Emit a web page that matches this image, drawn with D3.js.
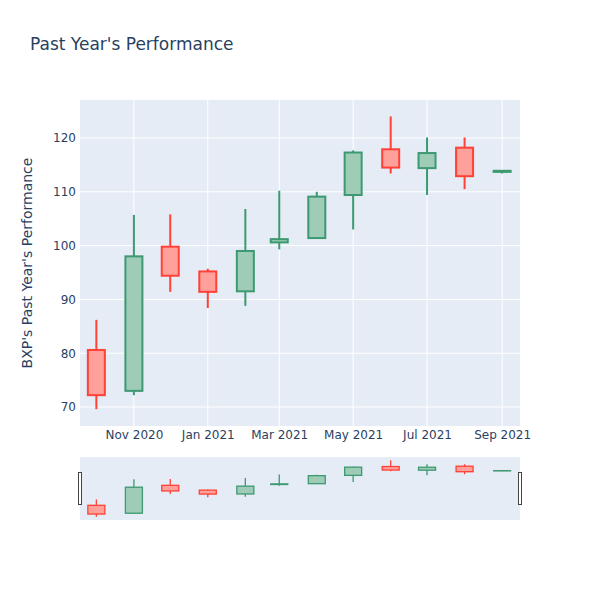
<!DOCTYPE html>
<html>
<head>
<meta charset="utf-8">
<script src="https://cdn.jsdelivr.net/npm/d3@7"></script>
<style>
  body { margin: 0; background: #fff; }
  text { font-family: "DejaVu Sans", verdana, arial, sans-serif; }
</style>
</head>
<body>
<div id="chart"></div>
<script>
// monthly candles
var dates = ["2020-10-01", "2020-11-01", "2020-12-01", "2021-01-01", "2021-02-01", "2021-03-01",
             "2021-04-01", "2021-05-01", "2021-06-01", "2021-07-01", "2021-08-01", "2021-09-01"];
var opens  = [80.6, 73.0, 99.8, 95.2, 91.5, 100.6, 101.4, 109.4, 117.9, 114.4, 118.2, 113.7];
var highs  = [86.2, 105.7, 105.8, 95.7, 106.8, 110.2, 110.0, 117.7, 124.0, 120.1, 120.1, 114.0];
var lows   = [69.6, 72.2, 91.4, 88.4, 88.8, 99.3, 101.4, 103.0, 113.4, 109.4, 110.5, 113.4];
var closes = [72.2, 98.0, 94.4, 91.4, 99.0, 101.2, 109.1, 117.3, 114.5, 117.2, 112.9, 113.9];
var yTicks = [70, 80, 90, 100, 110, 120];
var xTicks = ["2020-11-01", "2021-01-01", "2021-03-01", "2021-05-01", "2021-07-01", "2021-09-01"];

var width = 600, height = 600;
var margin = {left: 80, right: 80, top: 100};
var plotH = 326, sliderTop = 457, sliderH = 63;
var incColor = "#3D9970", decColor = "#FF4136";
var font = '"DejaVu Sans", verdana, arial, sans-serif';

var parse = d3.utcParse("%Y-%m-%d");
var data = dates.map(function(d, i) {
    return {date: parse(d), open: opens[i], high: highs[i], low: lows[i], close: closes[i]};
});

var svg = d3.select("#chart").append("svg")
    .attr("width", width)
    .attr("height", height);

var x = d3.scaleUtc()
    .domain([new Date(Date.UTC(2020, 8, 17, 12)), new Date(Date.UTC(2021, 8, 15, 18))])
    .range([margin.left, width - margin.right]);

var y = d3.scaleLinear()
    .domain([66.47, 127.06])
    .range([margin.top + plotH, margin.top]);

var ySlider = d3.scaleLinear()
    .domain(y.domain())
    .range([sliderTop + sliderH, sliderTop]);

// plot background
svg.append("rect")
    .attr("x", margin.left).attr("y", margin.top)
    .attr("width", width - margin.left - margin.right).attr("height", plotH)
    .attr("fill", "#E5ECF6");

// grid
svg.append("g").selectAll("line")
    .data(yTicks)
    .enter().append("line")
    .attr("x1", margin.left).attr("x2", width - margin.right)
    .attr("y1", function(d) { return y(d); }).attr("y2", function(d) { return y(d); })
    .attr("stroke", "#fff").attr("stroke-width", 1);

svg.append("g").selectAll("line")
    .data(xTicks.map(parse))
    .enter().append("line")
    .attr("x1", function(d) { return x(d); }).attr("x2", function(d) { return x(d); })
    .attr("y1", margin.top).attr("y2", margin.top + plotH)
    .attr("stroke", "#fff").attr("stroke-width", 1);

// axes
var yAxis = svg.append("g")
    .attr("transform", "translate(" + margin.left + ",0)")
    .call(d3.axisLeft(y).tickValues(yTicks).tickSize(0).tickPadding(4));
yAxis.select(".domain").remove();
yAxis.selectAll("text").attr("font-size", 12).attr("fill", "#2a3f5f")
    .style("font-family", font);

var xAxis = svg.append("g")
    .attr("transform", "translate(0," + (margin.top + plotH) + ")")
    .call(d3.axisBottom(x).tickValues(xTicks.map(parse)).tickSize(0).tickPadding(4)
        .tickFormat(d3.utcFormat("%b %Y")));
xAxis.select(".domain").remove();
xAxis.selectAll("text").attr("font-size", 12).attr("fill", "#2a3f5f")
    .style("font-family", font);

// candles
var boxW = 17;
function drawCandles(g, yScale, lw) {
    var c = g.selectAll("g.candle")
        .data(data)
        .enter().append("g")
        .attr("class", "candle");

    c.append("line")
        .attr("x1", function(d) { return x(d.date); })
        .attr("x2", function(d) { return x(d.date); })
        .attr("y1", function(d) { return yScale(d.high); })
        .attr("y2", function(d) { return yScale(d.low); })
        .attr("stroke", function(d) { return d.close >= d.open ? incColor : decColor; })
        .attr("stroke-width", lw);

    c.append("rect")
        .attr("x", function(d) { return x(d.date) - boxW / 2; })
        .attr("width", boxW)
        .attr("y", function(d) { return yScale(Math.max(d.open, d.close)); })
        .attr("height", function(d) { return Math.abs(yScale(d.open) - yScale(d.close)); })
        .attr("fill", function(d) { return d.close >= d.open ? "#9ECCB7" : "#FFA09A"; })
        .attr("stroke", function(d) { return d.close >= d.open ? incColor : decColor; })
        .attr("stroke-width", lw);
}
drawCandles(svg.append("g"), y, 2);

// range slider
svg.append("rect")
    .attr("x", margin.left).attr("y", sliderTop)
    .attr("width", width - margin.left - margin.right).attr("height", sliderH)
    .attr("fill", "#E5ECF6");
drawCandles(svg.append("g"), ySlider, 1.3);

[margin.left - 2, width - margin.right - 2].forEach(function(hx) {
    svg.append("rect")
        .attr("x", hx + 0.5).attr("y", sliderTop + sliderH / 2 - 16)
        .attr("width", 3).attr("height", 32)
        .attr("fill", "#fff").attr("stroke", "#444").attr("stroke-width", 1);
});

// titles
svg.append("text")
    .attr("x", 30).attr("y", 50)
    .attr("font-size", 17).attr("fill", "#2a3f5f")
    .text("Past Year's Performance");

svg.append("text")
    .attr("transform", "translate(32," + (margin.top + plotH / 2) + ") rotate(-90)")
    .attr("text-anchor", "middle")
    .attr("font-size", 14).attr("fill", "#2a3f5f")
    .text("BXP's Past Year's Performance");
</script>
</body>
</html>
